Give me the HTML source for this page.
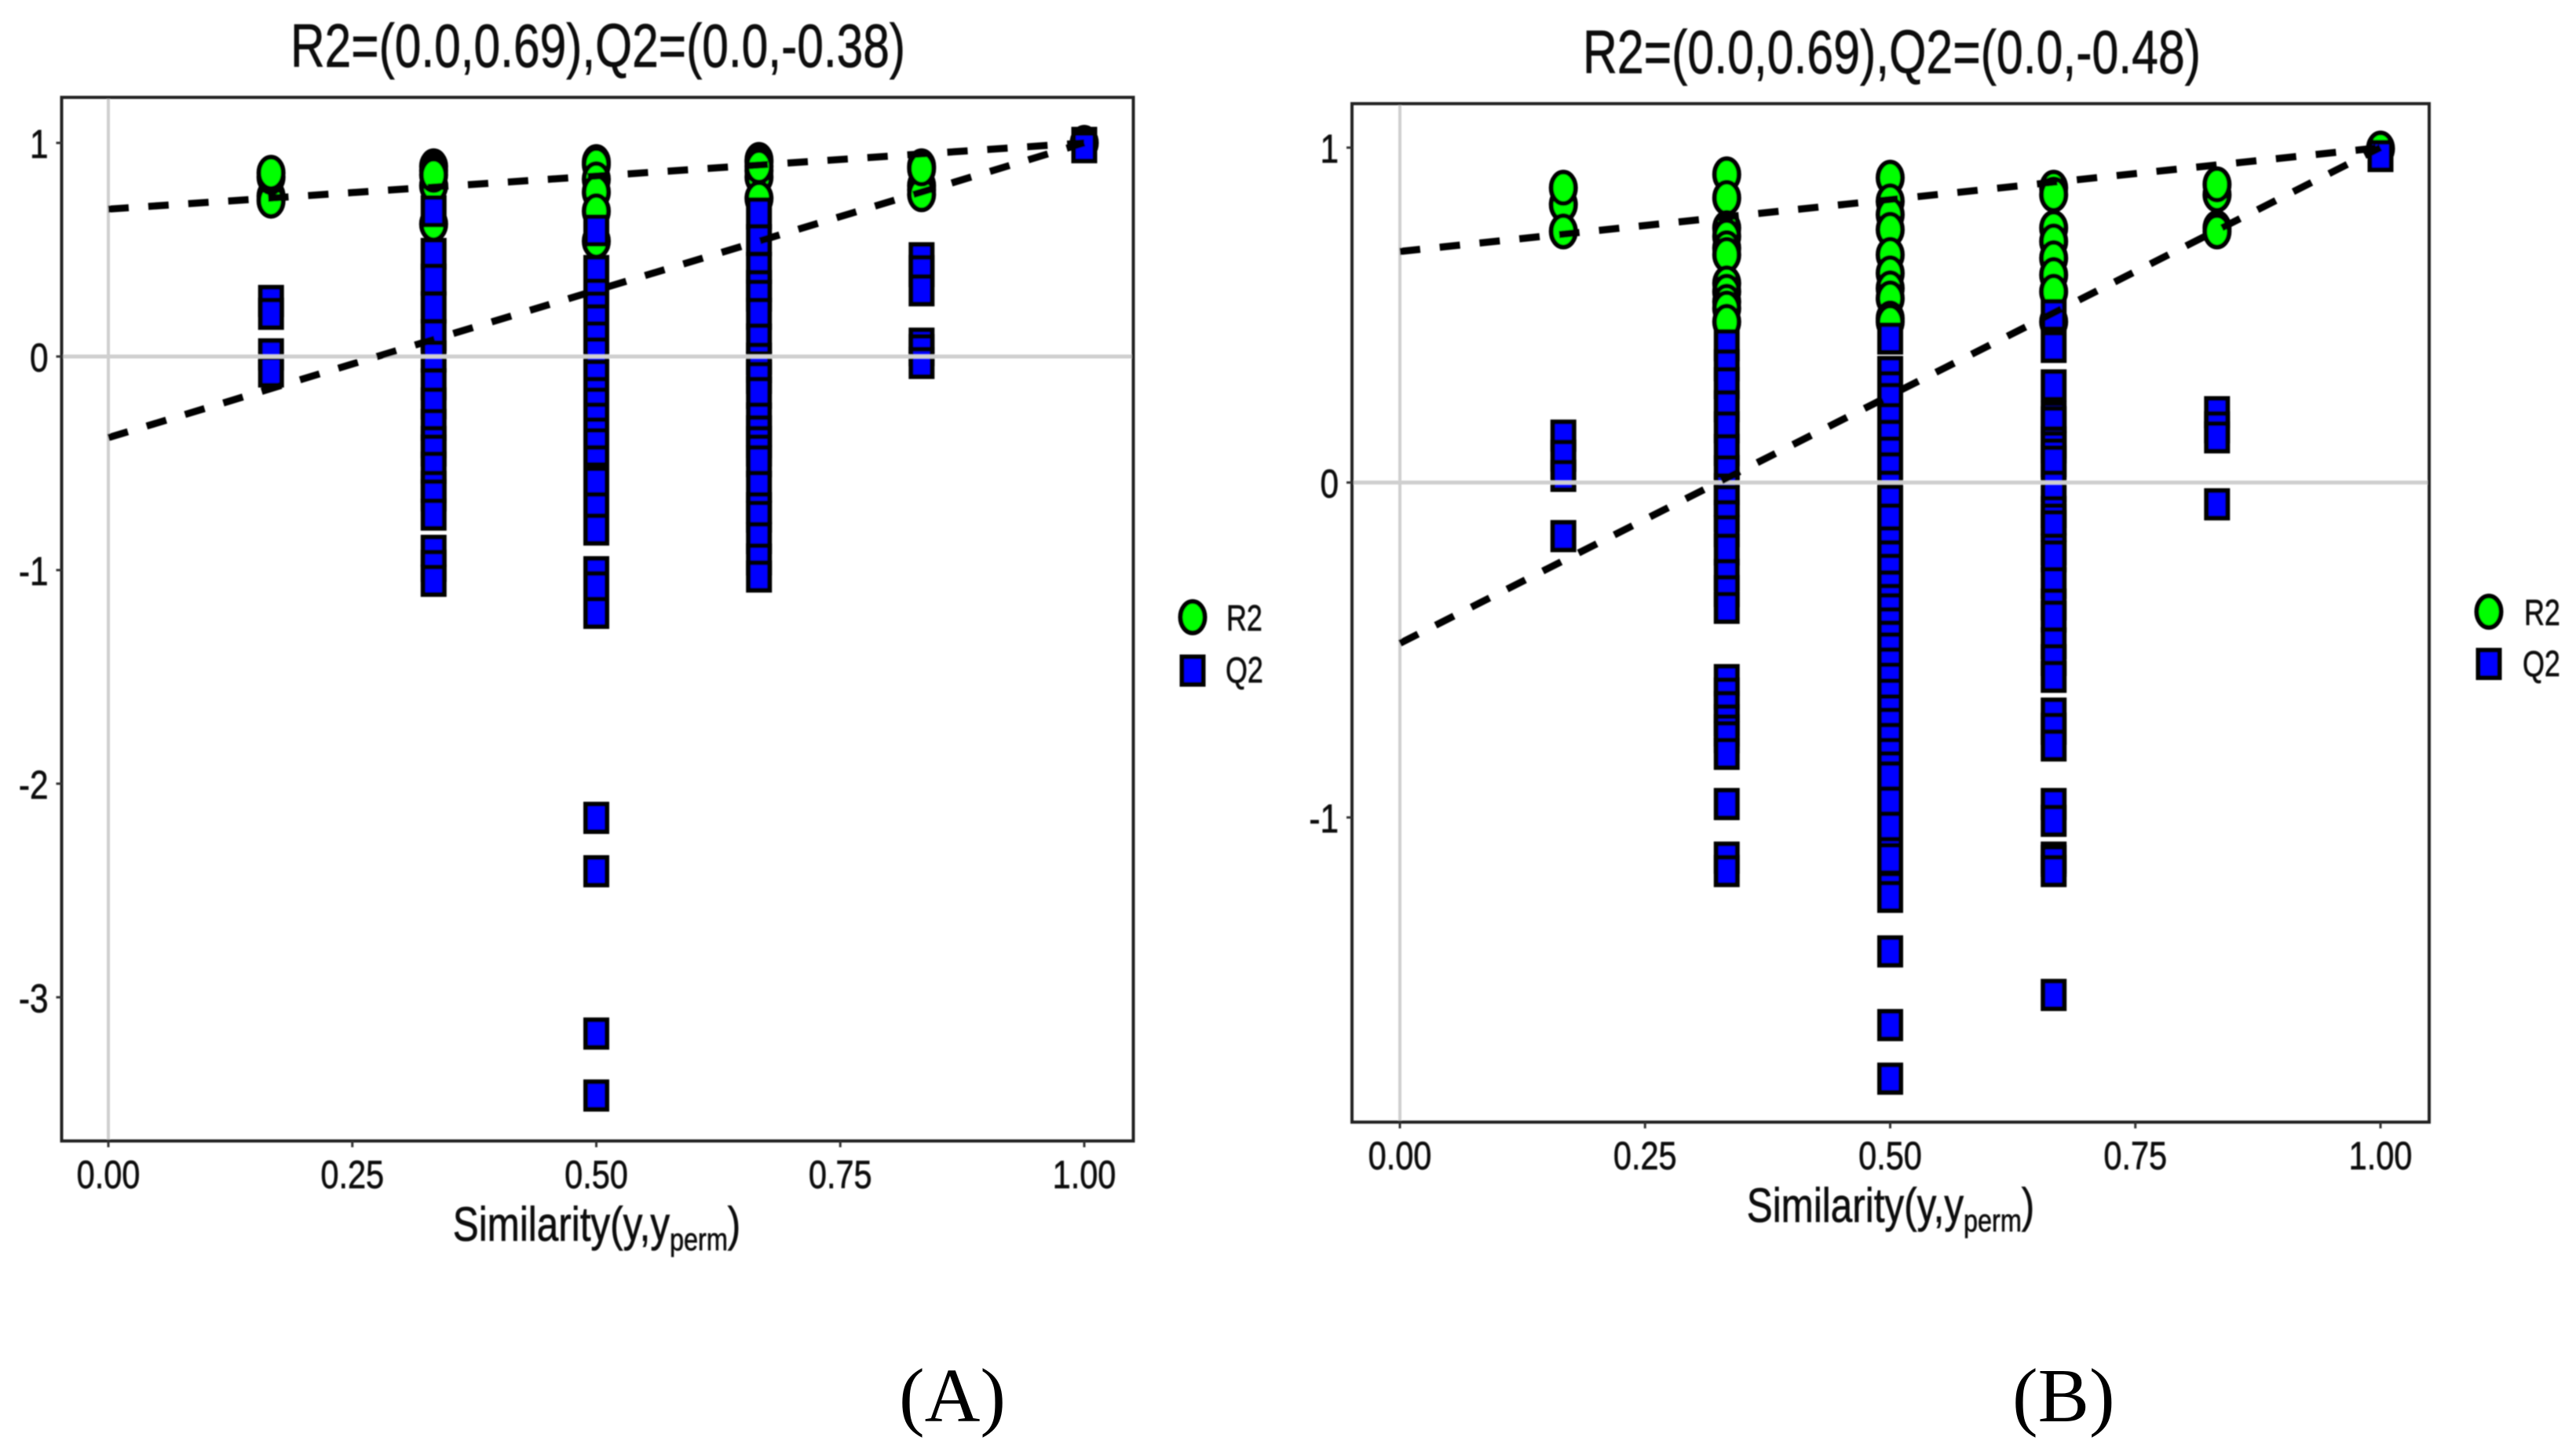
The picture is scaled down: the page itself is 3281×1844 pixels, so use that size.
<!DOCTYPE html>
<html lang="en">
<head>
<meta charset="utf-8">
<title>Permutation test plots (A) and (B)</title>
<style>
html,body{margin:0;padding:0;background:#fff;width:3281px;height:1844px;overflow:hidden}
svg{display:block}
text{font-family:"Liberation Sans",sans-serif;fill:#111;stroke:#111;stroke-width:.7px}
.panel-label{font-family:"Liberation Serif",serif;font-size:98px;fill:#000;stroke:none}
</style>
</head>
<body>
<svg id="figure" xmlns="http://www.w3.org/2000/svg" width="3281" height="1844" viewBox="0 0 3281 1844">
  <defs><filter id="soft" x="-2%" y="-2%" width="104%" height="104%"><feGaussianBlur stdDeviation="0.9"/></filter></defs>
  <rect width="3281" height="1844" fill="#fff"/>
  <g id="chart-root" filter="url(#soft)">
    <text x="370" y="85" font-size="78" textLength="783" lengthAdjust="spacingAndGlyphs">R2=(0.0,0.69),Q2=(0.0,-0.38)</text>
    <text x="2016" y="93" font-size="78" textLength="787" lengthAdjust="spacingAndGlyphs">R2=(0.0,0.69),Q2=(0.0,-0.48)</text>

    <text transform="translate(760,1580) scale(.81,1)" text-anchor="middle" font-size="61">Similarity(y,y<tspan font-size="40" dy="12">perm</tspan><tspan dy="-12">)</tspan></text>
    <text transform="translate(2408,1556) scale(.81,1)" text-anchor="middle" font-size="61">Similarity(y,y<tspan font-size="40" dy="12">perm</tspan><tspan dy="-12">)</tspan></text>

    <g>
      <ellipse cx="1519" cy="786" rx="15.5" ry="20" fill="#00ff00" stroke="#000" stroke-width="6"/>
      <text transform="translate(1562,803) scale(.78,1)" font-size="46">R2</text>
      <rect x="1505.5" y="836.5" width="27" height="35" fill="#0000ff" stroke="#000" stroke-width="6"/>
      <text transform="translate(1561,869) scale(.78,1)" font-size="46">Q2</text>
    </g>
    <g>
      <ellipse cx="3170" cy="779" rx="15.5" ry="20" fill="#00ff00" stroke="#000" stroke-width="6"/>
      <text transform="translate(3215,796) scale(.78,1)" font-size="46">R2</text>
      <rect x="3156.5" y="828" width="27" height="35" fill="#0000ff" stroke="#000" stroke-width="6"/>
      <text transform="translate(3213,861) scale(.78,1)" font-size="46">Q2</text>
    </g>
  </g>
  <text class="panel-label" x="1145" y="1810">(A)</text>
  <text class="panel-label" x="2563" y="1810">(B)</text>
</svg>
<script>
const similarityLevels = [0.1667, 0.3333, 0.5, 0.6667, 0.8333, 1.0];
const xTicks = [0, 0.25, 0.5, 0.75, 1];
const xTickLabels = ["0.00", "0.25", "0.50", "0.75", "1.00"];
const yTicksA = [1, 0, -1, -2, -3];
const yTickLabelsA = ["1", "0", "-1", "-2", "-3"];
const yTicksB = [1, 0, -1];
const yTickLabelsB = ["1", "0", "-1"];

const interceptsA = { r2: 0.69, q2: -0.38 };
const interceptsB = { r2: 0.69, q2: -0.48 };

const r2A = [
  [0.75, 0.73, 0.84, 0.86],
  [0.89, 0.87, 0.80, 0.62, 0.85],
  [0.91, 0.90, 0.83, 0.77, 0.68, 0.54],
  [0.92, 0.91, 0.87, 0.84, 0.74, 0.89],
  [0.80, 0.78, 0.76, 0.89, 0.88],
  [1.0]
];
const q2A = [
  [0.26, 0.20, 0.01, -0.07],
  [0.68, 0.48, 0.36, 0.23, 0.10, 0.0, -0.13, -0.22, -0.32, -0.40, -0.44, -0.52, -0.61, -0.65, -0.74, -0.91, -0.98, -1.05],
  [0.59, 0.40, 0.29, 0.23, 0.17, 0.09, 0.015, -0.09, -0.17, -0.22, -0.29, -0.36, -0.41, -0.49, -0.57, -0.59, -0.71, -0.81, -1.01, -1.08, -1.20, -2.16, -2.41, -3.17, -3.46],
  [0.67, 0.545, 0.415, 0.33, 0.285, 0.20, 0.08, -0.01, -0.05, -0.10, -0.17, -0.29, -0.35, -0.40, -0.44, -0.49, -0.61, -0.71, -0.75, -0.85, -0.95, -1.03],
  [0.46, 0.40, 0.31, 0.06, 0.03, -0.03],
  [1.0, 0.98]
];
const r2B = [
  [0.83, 0.88, 0.75],
  [0.92, 0.85, 0.76, 0.735, 0.70, 0.68, 0.595, 0.57, 0.54, 0.52, 0.48],
  [0.91, 0.84, 0.80, 0.755, 0.68, 0.625, 0.58, 0.55, 0.49, 0.48],
  [0.88, 0.86, 0.76, 0.72, 0.67, 0.62, 0.57, 0.48],
  [0.86, 0.89, 0.76, 0.75],
  [0.997]
];
const q2B = [
  [0.14, 0.08, 0.02, -0.16],
  [0.41, 0.35, 0.297, 0.228, 0.165, 0.097, 0.034, -0.02, -0.055, -0.10, -0.145, -0.20, -0.276, -0.324, -0.374, -0.59, -0.63, -0.67, -0.71, -0.74, -0.76, -0.81, -0.96, -1.12, -1.16],
  [0.43, 0.33, 0.285, 0.25, 0.19, 0.14, 0.09, 0.043, -0.012, -0.054, -0.11, -0.178, -0.22, -0.26, -0.31, -0.35, -0.378, -0.42, -0.46, -0.495, -0.54, -0.585, -0.633, -0.68, -0.72, -0.765, -0.81, -0.85, -0.88, -0.955, -1.03, -1.106, -1.124, -1.21, -1.237, -1.40, -1.62, -1.78],
  [0.50, 0.405, 0.29, 0.195, 0.18, 0.12, 0.105, 0.084, 0.063, -0.012, -0.088, -0.11, -0.13, -0.20, -0.22, -0.30, -0.364, -0.40, -0.48, -0.53, -0.58, -0.69, -0.735, -0.785, -0.96, -1.01, -1.12, -1.13, -1.16, -1.53],
  [0.21, 0.165, 0.135, -0.065],
  [0.975]
];

const NS = "http://www.w3.org/2000/svg";
const root = document.getElementById("chart-root");

function make(tag, attrs, parent) {
  const el = document.createElementNS(NS, tag);
  for (const k in attrs) el.setAttribute(k, attrs[k]);
  parent.appendChild(el);
  return el;
}

function drawPanel(id, box, yTicks, yLabels, r2, q2, intercepts) {
  const sx = v => box.x0 + v * box.xUnit;
  const sy = v => box.y0 - v * box.yUnit;

  const g = make("g", {}, root);
  
  

  r2.forEach((col, i) => col.forEach(v => {
    const m = make("ellipse", { cx: sx(similarityLevels[i]), cy: sy(v), rx: 15.5, ry: 20, fill: "#00ff00", stroke: "#000", "stroke-width": 6 }, g);
    
    
  }));
  q2.forEach((col, i) => col.forEach(v => {
    const m = make("rect", { x: sx(similarityLevels[i]) - 13.5, y: sy(v) - 17.5, width: 27, height: 35, fill: "#0000ff", stroke: "#000", "stroke-width": 6 }, g);
    
    
  }));

  const h = make("line", { x1: box.left, x2: box.right, y1: sy(0), y2: sy(0), stroke: "#cfcfcf", "stroke-width": 5 }, g);
  
  
  const vl = make("line", { x1: sx(0), x2: sx(0), y1: box.top, y2: box.bottom, stroke: "#cfcfcf", "stroke-width": 4 }, g);
  
  

  const r2Line = make("line", { x1: sx(0), y1: sy(intercepts.r2), x2: sx(1), y2: sy(1), stroke: "#000", "stroke-width": 9, "stroke-dasharray": "26 25" }, g);
  
  
  const q2Line = make("line", { x1: sx(0), y1: sy(intercepts.q2), x2: sx(1), y2: sy(1), stroke: "#000", "stroke-width": 9, "stroke-dasharray": "26 25" }, g);
  
  

  const frame = make("rect", { x: box.left, y: box.top, width: box.right - box.left, height: box.bottom - box.top, fill: "none", stroke: "#222", "stroke-width": 4 }, g);
  
  

  xTicks.forEach((t, i) => {
    const tick = make("line", { x1: sx(t), x2: sx(t), y1: box.bottom, y2: box.bottom + 8, stroke: "#333", "stroke-width": 3 }, g);
    
    
    const lab = make("text", { transform: "translate(" + sx(t) + "," + box.xLabelY + ") scale(.83,1)", "text-anchor": "middle", "font-size": 50 }, g);
    
    
    lab.textContent = xTickLabels[i];
  });
  yTicks.forEach((t, i) => {
    const tick = make("line", { x1: box.left - 7, x2: box.left, y1: sy(t), y2: sy(t), stroke: "#333", "stroke-width": 3 }, g);
    
    
    const lab = make("text", { transform: "translate(" + (box.left - 17) + "," + (sy(t) + 19) + ") scale(.83,1)", "text-anchor": "end", "font-size": 51 }, g);
    
    
    lab.textContent = yLabels[i];
  });
}

drawPanel("a", { left: 78.5, right: 1443.5, top: 124, bottom: 1453, x0: 138, xUnit: 1243, y0: 454, yUnit: 272, xLabelY: 1513 }, yTicksA, yTickLabelsA, r2A, q2A, interceptsA);
drawPanel("b", { left: 1722, right: 3094, top: 132, bottom: 1429, x0: 1783, xUnit: 1249, y0: 614.5, yUnit: 426.5, xLabelY: 1489 }, yTicksB, yTickLabelsB, r2B, q2B, interceptsB);
</script>
</body>
</html>
